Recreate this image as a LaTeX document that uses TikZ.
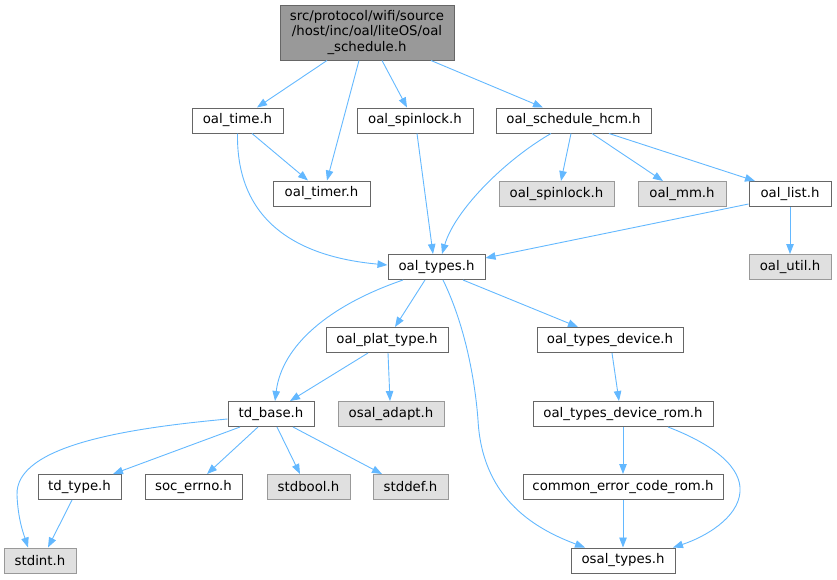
\documentclass[tikz,border=0pt]{standalone}
\usepackage{fontspec}
\setmainfont{DejaVu Sans}
\usetikzlibrary{arrows.meta}
\definecolor{edgeblue}{HTML}{63B8FF}
\definecolor{bordergray}{HTML}{666666}
\definecolor{lightborder}{HTML}{999999}
\definecolor{lightfill}{HTML}{E0E0E0}
\definecolor{rootfill}{HTML}{999999}
\begin{document}
\begin{tikzpicture}[x=1pt,y=-1pt,
  every node/.style={font=\fontsize{13.3}{15.2}\selectfont},
  filebox/.style={draw=bordergray, fill=white, line width=1pt, minimum height=25pt, inner sep=0pt, align=center},
  extbox/.style={draw=lightborder, fill=lightfill, line width=1pt, minimum height=25pt, inner sep=0pt, align=center},
  rootbox/.style={draw=bordergray, fill=rootfill, line width=1pt, minimum height=55pt, inner sep=0pt, align=center},
  dep/.style={draw=edgeblue, line width=0.9pt, -{Triangle[length=10pt,width=7.5pt]}, fill=none}
]
\useasboundingbox (0,0) rectangle (837,579);

\node[rootbox, minimum width=174pt] (root) at (367,32.5) {src/protocol/wifi/source\\/host/inc/oal/liteOS/oal\\\_schedule.h};
\node[filebox, minimum width=91pt] (time) at (237.5,120.5) {oal\_time.h};
\node[filebox, minimum width=116pt] (spin) at (415,120.5) {oal\_spinlock.h};
\node[filebox, minimum width=155pt] (hcm) at (573.5,120.5) {oal\_schedule\_hcm.h};
\node[filebox, minimum width=97pt] (timer) at (321.5,193.5) {oal\_timer.h};
\node[extbox, minimum width=115pt] (spin2) at (556.5,194) {oal\_spinlock.h};
\node[extbox, minimum width=88pt] (mm) at (682,194) {oal\_mm.h};
\node[filebox, minimum width=82pt] (list) at (790,194) {oal\_list.h};
\node[filebox, minimum width=97pt] (types) at (436.5,267) {oal\_types.h};
\node[extbox, minimum width=82pt] (util) at (790,267) {oal\_util.h};
\node[filebox, minimum width=122pt] (plat) at (387,340) {oal\_plat\_type.h};
\node[filebox, minimum width=146pt] (device) at (610,340) {oal\_types\_device.h};
\node[filebox, minimum width=86pt] (tdbase) at (271,414) {td\_base.h};
\node[extbox, minimum width=106pt] (adapt) at (391,414) {osal\_adapt.h};
\node[filebox, minimum width=180pt] (rom) at (623,414) {oal\_types\_device\_rom.h};
\node[filebox, minimum width=83pt] (tdtype) at (79.5,487) {td\_type.h};
\node[filebox, minimum width=97pt] (soc) at (193.5,487) {soc\_errno.h};
\node[extbox, minimum width=83pt] (stdbool) at (308.5,487) {stdbool.h};
\node[extbox, minimum width=75pt] (stddef) at (410.5,487) {stddef.h};
\node[filebox, minimum width=200pt] (common) at (623,487) {common\_error\_code\_rom.h};
\node[extbox, minimum width=72pt] (stdint) at (40,560.5) {stdint.h};
\node[filebox, minimum width=104pt] (osal) at (623,560.5) {osal\_types.h};

% root edges
\draw[dep] ([xshift=-40pt]root.south) -- ([xshift=19.5pt]time.north);
\draw[dep] ([xshift=-8pt]root.south) -- ([xshift=5.5pt]timer.north);
\draw[dep] ([xshift=15pt]root.south) -- ([xshift=-8pt]spin.north);
\draw[dep] ([xshift=64pt]root.south) -- ([xshift=-30.5pt]hcm.north);
% oal_time
\draw[dep] ([xshift=14.5pt]time.south) -- ([xshift=-13.5pt]timer.north);
\draw[dep] (time.south) .. controls (236,230) and (310,258) .. ([yshift=2pt]types.west);
% spinlock
\draw[dep] ([xshift=2pt]spin.south) -- ([xshift=-3.5pt]types.north);
% hcm
\draw[dep] ([xshift=-22.5pt]hcm.south) .. controls (505,160) and (455,210) .. ([xshift=5.5pt]types.north);
\draw[dep] ([xshift=-2.5pt]hcm.south) -- ([xshift=4.5pt]spin2.north);
\draw[dep] ([xshift=18.5pt]hcm.south) -- ([xshift=-19pt]mm.north);
\draw[dep] ([xshift=35.5pt]hcm.south) -- ([xshift=-35pt]list.north);
% list
\draw[dep] ([yshift=-10pt]list.west) -- ([yshift=9pt]types.east);
\draw[dep] (list.south) -- (util.north);
% types
\draw[dep] ([xshift=-33.5pt]types.south) .. controls (330,305) and (282,345) .. ([xshift=4pt]tdbase.north);
\draw[dep] ([xshift=-11.5pt]types.south) -- ([xshift=8pt]plat.north);
\draw[dep] ([xshift=6.5pt]types.south) .. controls (465,325) and (475,380) .. (478,420) .. controls (482,495) and (530,527) .. ([xshift=-38pt]osal.north);
\draw[dep] ([xshift=26.5pt]types.south) -- ([xshift=-32pt]device.north);
% plat
\draw[dep] ([xshift=-19pt]plat.south) -- ([xshift=19pt]tdbase.north);
\draw[dep] ([xshift=1pt]plat.south) -- ([xshift=-1pt]adapt.north);
% device chain
\draw[dep] ([xshift=2pt]device.south) -- ([xshift=-4pt]rom.north);
\draw[dep] (rom.south) -- (common.north);
\draw[dep] ([xshift=45pt]rom.south) .. controls (715,445) and (742,468) .. (740,492) .. controls (738,518) and (705,537) .. ([xshift=50pt]osal.north);
\draw[dep] (common.south) -- (osal.north);
% td_base
\draw[dep] ([yshift=-5pt]tdbase.west) .. controls (130,428) and (15,445) .. (17,495) .. controls (18,520) and (24,535) .. ([xshift=-12pt]stdint.north);
\draw[dep] ([xshift=-31pt]tdbase.south) -- ([xshift=33.5pt]tdtype.north);
\draw[dep] ([xshift=-13pt]tdbase.south) -- ([xshift=13.5pt]soc.north);
\draw[dep] ([xshift=6pt]tdbase.south) -- ([xshift=-8.5pt]stdbool.north);
\draw[dep] ([xshift=22pt]tdbase.south) -- ([xshift=-28.5pt]stddef.north);
\draw[dep] ([xshift=-7.5pt]tdtype.south) -- ([xshift=8pt]stdint.north);
\end{tikzpicture}
\end{document}
